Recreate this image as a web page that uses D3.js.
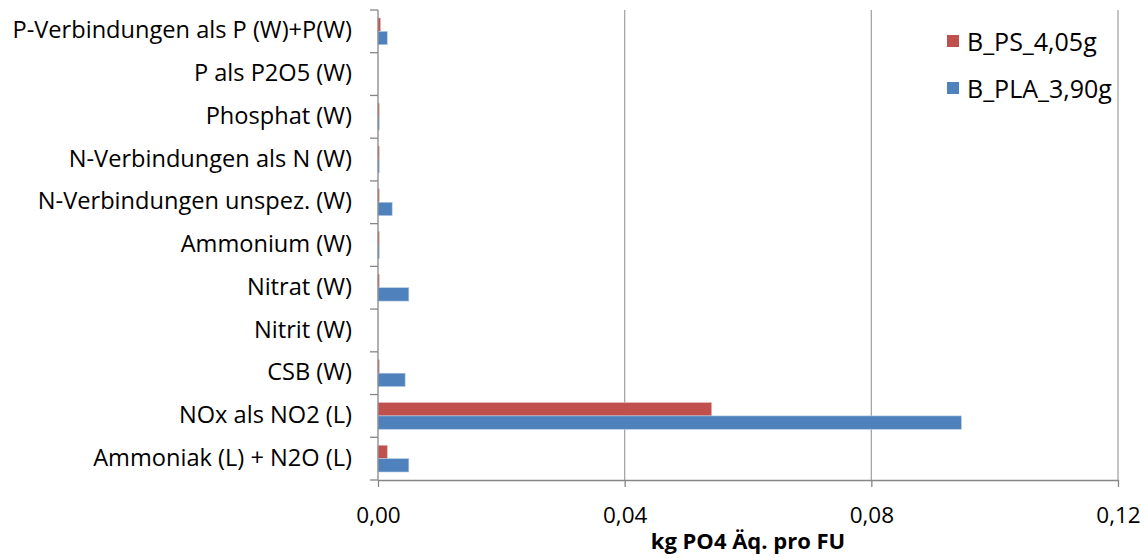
<!DOCTYPE html>
<html>
<head>
<meta charset="utf-8">
<script src="https://cdn.jsdelivr.net/npm/d3@7"></script>
<style>
  body { margin: 0; background: #fff; }
  text { font-family: "Open Sans", "Noto Sans", sans-serif; fill: #000; }
</style>
</head>
<body>
<div id="root"></div>
<script>
const categories = [
  "P-Verbindungen als P (W)+P(W)",
  "P als P2O5 (W)",
  "Phosphat (W)",
  "N-Verbindungen als N (W)",
  "N-Verbindungen unspez. (W)",
  "Ammonium (W)",
  "Nitrat (W)",
  "Nitrit (W)",
  "CSB (W)",
  "NOx als NO2 (L)",
  "Ammoniak (L) + N2O (L)"
];
const seriesNames = ["B_PS_4,05g", "B_PLA_3,90g"];
const psValues  = [0.0004, 0, 0.0002, 0.0002, 0.0002, 0.0002, 0.0002, 0, 0.0002, 0.0541, 0.0015];
const plaValues = [0.0015, 0, 0.0002, 0.0002, 0.0023, 0.0002, 0.0050, 0, 0.0044, 0.0946, 0.0050];
const xTicks = [0, 0.04, 0.08, 0.12];
const colors = ["#C0504D", "#4F81BD"];

const W = 1148, H = 558;
const margin = { top: 10, left: 378, right: 30, bottom: 78 };
const width = W - margin.left - margin.right;
const height = H - margin.top - margin.bottom;

const svg = d3.select("#root").append("svg")
  .attr("width", W).attr("height", H);

const g = svg.append("g")
  .attr("transform", "translate(" + margin.left + "," + margin.top + ")");

const x = d3.scaleLinear().domain([0, 0.12]).range([0, width]);
const y = d3.scaleBand().domain(categories).range([0, height]);
const ySub = d3.scaleBand().domain(seriesNames).range([0, y.bandwidth()]).paddingOuter(0.6);

// gridlines
g.selectAll(".grid").data(xTicks.slice(1)).enter().append("line")
  .attr("x1", d => x(d)).attr("x2", d => x(d))
  .attr("y1", 0).attr("y2", height)
  .attr("stroke", "#a6a6a6").attr("stroke-width", 1.3);

// bars
const rows = categories.map((c, i) => ({ cat: c, vals: [psValues[i], plaValues[i]] }));
rows.forEach(r => {
  r.vals.forEach((v, j) => {
    if (v <= 0) return;
    g.append("rect")
      .attr("x", x(0))
      .attr("y", y(r.cat) + ySub(seriesNames[j]))
      .attr("width", x(v))
      .attr("height", ySub.bandwidth())
      .attr("fill", colors[j])
      .attr("stroke", j === 0 ? "#e8b8b6" : "#b8cce4")
      .attr("stroke-width", 0.6);
  });
});

// y axis (Excel style, ticks at category boundaries)
const bounds = categories.map(c => y(c)).concat([height]);
g.append("line").attr("x1", 0).attr("x2", 0).attr("y1", 0).attr("y2", height)
  .attr("stroke", "#868686").attr("stroke-width", 1.3);
g.selectAll(".ytick").data(bounds).enter().append("line")
  .attr("x1", -8).attr("x2", 0).attr("y1", d => d).attr("y2", d => d)
  .attr("stroke", "#868686").attr("stroke-width", 1.3);
g.selectAll(".ylab").data(categories).enter().append("text")
  .attr("x", -26)
  .attr("y", d => y(d) + y.bandwidth() / 2)
  .attr("dy", "0.3em")
  .attr("text-anchor", "end")
  .attr("font-size", 23.6)
  .text(d => d);

// x axis
const xAxis = g.append("g")
  .attr("transform", "translate(0," + height + ")")
  .call(d3.axisBottom(x).tickValues(xTicks).tickSize(7).tickSizeOuter(0)
    .tickFormat(d => d3.format(".2f")(d).replace(".", ",")));
xAxis.select(".domain").attr("stroke", "#868686").attr("stroke-width", 1.3);
xAxis.selectAll(".tick line").attr("stroke", "#868686").attr("stroke-width", 1.3);
xAxis.selectAll(".tick text").attr("font-size", 22.5).attr("dy", 0).attr("y", 43)
  .attr("font-family", "'Open Sans', sans-serif").attr("fill", "#000");

svg.append("text")
  .attr("x", margin.left + width / 2)
  .attr("y", 549)
  .attr("text-anchor", "middle")
  .attr("font-size", 22)
  .attr("font-weight", "bold")
  .text("kg PO4 Äq. pro FU");

// legend
const legend = svg.append("g").attr("transform", "translate(947,35)");
seriesNames.forEach((s, i) => {
  legend.append("rect")
    .attr("x", 0).attr("y", i * 47)
    .attr("width", 12).attr("height", 12)
    .attr("fill", colors[i]);
  legend.append("text")
    .attr("x", 20).attr("y", i * 47 + 7)
    .attr("dy", "0.35em")
    .attr("font-size", 25)
    .text(s);
});
</script>
</body>
</html>
